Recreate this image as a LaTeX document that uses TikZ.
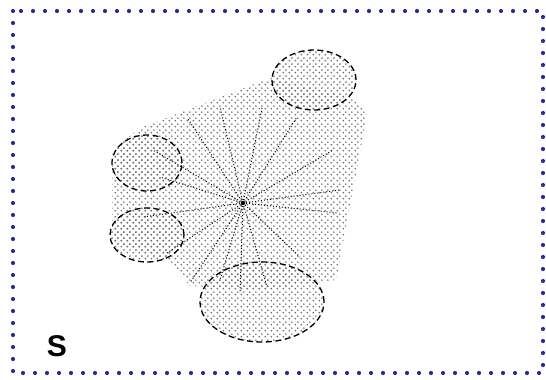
\documentclass[tikz,border=0pt]{standalone}
\usepackage{fontspec}
\setmainfont{Liberation Sans}
\usetikzlibrary{patterns,shapes.geometric}
\definecolor{framecol}{RGB}{45,45,150}
\definecolor{dotgray}{RGB}{115,115,115}
\pgfdeclarepatternformonly{bigdots}{\pgfpointorigin}{\pgfqpoint{6pt}{6pt}}{\pgfqpoint{6pt}{6pt}}{%
  \pgfpathcircle{\pgfqpoint{1.5pt}{1.5pt}}{1.1pt}%
  \pgfpathcircle{\pgfqpoint{4.5pt}{4.5pt}}{1.1pt}%
  \pgfusepath{fill}}
\tikzset{
  framedots/.style={draw=framecol,line width=4.2pt,line cap=round,dash pattern=on 0pt off 12pt},
  region/.style={pattern=bigdots,pattern color=dotgray},
  blob/.style={region,draw=black,line width=1.3pt,dash pattern=on 6pt off 3.5pt,shape=ellipse,inner sep=0pt},
  ray/.style={draw=black,line width=1pt,dash pattern=on 1pt off 2pt}
}
\begin{document}
\begin{tikzpicture}[x=1pt,y=-1pt]
\useasboundingbox (0,0) rectangle (546,380);
% frame
\draw[framedots] (13,11) rectangle (543,373);
% shaded region
\path[region] (140,128) -- (270,78) -- (355,98) -- (367,115) -- (336,280)
  -- (262,290) -- (190,286) -- (170,262) -- (112,242) -- (112,150) -- cycle;
% rays
\coordinate (c) at (243,203);
\foreach \p in {(220,107),(188,119),(262,108),(297,117),(333,150),(340,190),
  (338,213),(300,257),(267,287),(240,293),(220,280),(190,283),(167,253),
  (143,217),(160,177),(153,150)}{
  \draw[ray] (c) -- \p;
}
\fill (c) circle (2.2pt);
% ellipses
\node[blob,minimum width=84pt,minimum height=60pt] (e1) at (314,80) {};
\node[blob,minimum width=70pt,minimum height=56pt] (e2) at (147,163) {};
\node[blob,minimum width=74pt,minimum height=54pt] (e3) at (147,235) {};
\node[blob,minimum width=124pt,minimum height=80pt] (e4) at (262,302) {};
% label
\node[font=\fontsize{30}{30}\selectfont\bfseries] (s) at (57,346) {S};
\end{tikzpicture}
\end{document}
